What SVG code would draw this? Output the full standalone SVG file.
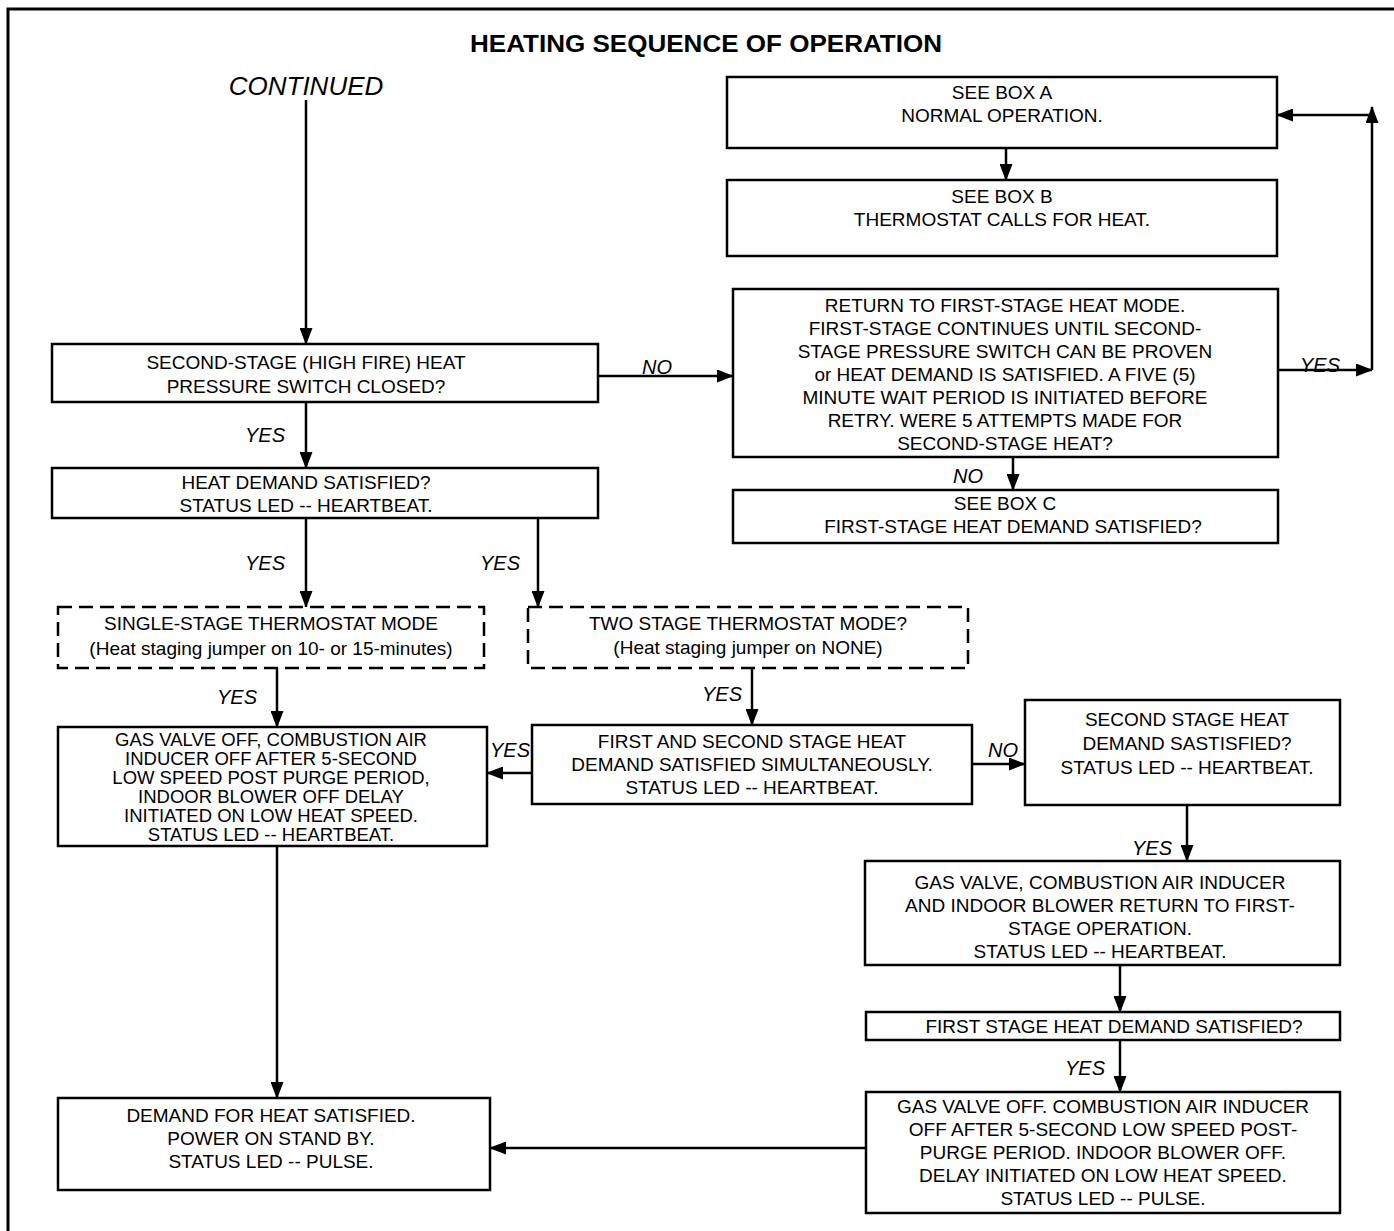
<svg xmlns="http://www.w3.org/2000/svg" width="1394" height="1231" viewBox="0 0 1394 1231">
<style>
.bx{fill:#fff;stroke:#000;stroke-width:2.5}
.ds{fill:#fff;stroke:#000;stroke-width:2.5;stroke-dasharray:14 7}
.t{font-family:"Liberation Sans",Arial,sans-serif;font-size:19px;fill:#000;text-anchor:middle}
.ts{font-family:"Liberation Sans",Arial,sans-serif;font-size:18.5px;fill:#000;text-anchor:middle}
.lb{font-family:"Liberation Sans",Arial,sans-serif;font-size:20px;font-style:italic;fill:#000;text-anchor:middle}
.c{stroke:#000;stroke-width:2.5;fill:none;marker-end:url(#ah)}
</style>
<defs>
<marker id="ah" markerUnits="userSpaceOnUse" markerWidth="17" markerHeight="13" refX="16" refY="6.5" orient="auto">
<path d="M0,0 L17,6.5 L0,13 Z" fill="#000"/>
</marker>
</defs>
<rect width="1394" height="1231" fill="#fff"/>
<g id="frame">
<path d="M8,1231 V9 H1394" fill="none" stroke="#000" stroke-width="3"/>
</g>
<text x="706" y="52" font-family="Liberation Sans,Arial,sans-serif" font-size="23" font-weight="bold" text-anchor="middle" textLength="472" lengthAdjust="spacingAndGlyphs">HEATING SEQUENCE OF OPERATION</text>
<text x="306" y="95" font-family="Liberation Sans,Arial,sans-serif" font-size="26" font-style="italic" text-anchor="middle">CONTINUED</text>

<g id="connectors">
<line class="c" x1="306" y1="100" x2="306" y2="344"/>
<line class="c" x1="306" y1="402" x2="306" y2="468"/>
<line class="c" x1="598" y1="376" x2="733" y2="376"/>
<line class="c" x1="306" y1="518" x2="306" y2="607"/>
<line class="c" x1="538" y1="518" x2="538" y2="607"/>
<line class="c" x1="277" y1="668" x2="277" y2="727"/>
<line class="c" x1="752" y1="668" x2="752" y2="725"/>
<line class="c" x1="532" y1="773" x2="487" y2="773"/>
<line class="c" x1="972" y1="764" x2="1025" y2="764"/>
<line class="c" x1="1187" y1="805" x2="1187" y2="861"/>
<line class="c" x1="1120" y1="965" x2="1120" y2="1012"/>
<line class="c" x1="1120" y1="1040" x2="1120" y2="1092"/>
<line class="c" x1="866" y1="1148" x2="490" y2="1148"/>
<line class="c" x1="277" y1="846" x2="277" y2="1098"/>
<line class="c" x1="1006" y1="148" x2="1006" y2="180"/>
<line class="c" x1="1013" y1="457" x2="1013" y2="490"/>
<line class="c" x1="1278" y1="370" x2="1372" y2="370"/>
<line class="c" x1="1372" y1="370" x2="1372" y2="107"/>
<line class="c" x1="1372" y1="115" x2="1277" y2="115"/>
<text class="lb" x="657" y="374">NO</text>
<text class="lb" x="265" y="442">YES</text>
<text class="lb" x="265" y="570">YES</text>
<text class="lb" x="500" y="570">YES</text>
<text class="lb" x="237" y="704">YES</text>
<text class="lb" x="722" y="701">YES</text>
<text class="lb" x="510" y="757">YES</text>
<text class="lb" x="1003" y="757">NO</text>
<text class="lb" x="1152" y="855">YES</text>
<text class="lb" x="1085" y="1075">YES</text>
<text class="lb" x="968" y="483">NO</text>
<text class="lb" x="1320" y="372">YES</text>
</g>

<g id="boxA"><rect class="bx" x="727" y="77" width="550" height="71"/>
<text class="t" x="1002" y="99">SEE BOX A</text><text class="t" x="1002" y="122">NORMAL OPERATION.</text></g>
<g id="boxB"><rect class="bx" x="727" y="180" width="550" height="76"/>
<text class="t" x="1002" y="203">SEE BOX B</text><text class="t" x="1002" y="226">THERMOSTAT CALLS FOR HEAT.</text></g>
<g id="returnFirst"><rect class="bx" x="733" y="289" width="545" height="168"/>
<text class="t" x="1005" y="312">RETURN TO FIRST-STAGE HEAT MODE.</text>
<text class="t" x="1005" y="335">FIRST-STAGE CONTINUES UNTIL SECOND-</text>
<text class="t" x="1005" y="358">STAGE PRESSURE SWITCH CAN BE PROVEN</text>
<text class="t" x="1005" y="381">or HEAT DEMAND IS SATISFIED. A FIVE (5)</text>
<text class="t" x="1005" y="404">MINUTE WAIT PERIOD IS INITIATED BEFORE</text>
<text class="t" x="1005" y="427">RETRY. WERE 5 ATTEMPTS MADE FOR</text>
<text class="t" x="1005" y="450">SECOND-STAGE HEAT?</text></g>
<g id="boxC"><rect class="bx" x="733" y="490" width="545" height="53"/>
<text class="t" x="1005" y="510">SEE BOX C</text><text class="t" x="1013" y="533">FIRST-STAGE HEAT DEMAND SATISFIED?</text></g>

<g id="pressureSwitch"><rect class="bx" x="52" y="344" width="546" height="58"/>
<text class="t" x="306" y="369">SECOND-STAGE (HIGH FIRE) HEAT</text>
<text class="t" x="306" y="393">PRESSURE SWITCH CLOSED?</text></g>
<g id="heatDemand"><rect class="bx" x="52" y="468" width="546" height="50"/>
<text class="t" x="306" y="489">HEAT DEMAND SATISFIED?</text>
<text class="t" x="306" y="512">STATUS LED -- HEARTBEAT.</text></g>
<g id="singleStage"><rect class="ds" x="58" y="607" width="426" height="61"/>
<text class="t" x="271" y="630">SINGLE-STAGE THERMOSTAT MODE</text>
<text class="t" x="271" y="655">(Heat staging jumper on 10- or 15-minutes)</text></g>
<g id="twoStage"><rect class="ds" x="528" y="607" width="440" height="61"/>
<text class="t" x="748" y="630">TWO STAGE THERMOSTAT MODE?</text>
<text class="t" x="748" y="654">(Heat staging jumper on NONE)</text></g>
<g id="gasOff1"><rect class="bx" x="58" y="727" width="429" height="119"/>
<text class="ts" x="271" y="746">GAS VALVE OFF, COMBUSTION AIR</text>
<text class="ts" x="271" y="765">INDUCER OFF AFTER 5-SECOND</text>
<text class="ts" x="271" y="784">LOW SPEED POST PURGE PERIOD,</text>
<text class="ts" x="271" y="803">INDOOR BLOWER OFF DELAY</text>
<text class="ts" x="271" y="822">INITIATED ON LOW HEAT SPEED.</text>
<text class="ts" x="271" y="841">STATUS LED -- HEARTBEAT.</text></g>
<g id="firstSecond"><rect class="bx" x="532" y="725" width="440" height="79"/>
<text class="t" x="752" y="748">FIRST AND SECOND STAGE HEAT</text>
<text class="t" x="752" y="771">DEMAND SATISFIED SIMULTANEOUSLY.</text>
<text class="t" x="752" y="794">STATUS LED -- HEARTBEAT.</text></g>
<g id="secondStage"><rect class="bx" x="1025" y="700" width="315" height="105"/>
<text class="t" x="1187" y="726">SECOND STAGE HEAT</text>
<text class="t" x="1187" y="750">DEMAND SASTISFIED?</text>
<text class="t" x="1187" y="774">STATUS LED -- HEARTBEAT.</text></g>
<g id="gasReturn"><rect class="bx" x="865" y="861" width="475" height="104"/>
<text class="t" x="1100" y="889">GAS VALVE, COMBUSTION AIR INDUCER</text>
<text class="t" x="1100" y="912">AND INDOOR BLOWER RETURN TO FIRST-</text>
<text class="t" x="1100" y="935">STAGE OPERATION.</text>
<text class="t" x="1100" y="958">STATUS LED -- HEARTBEAT.</text></g>
<g id="firstStageSat"><rect class="bx" x="866" y="1012" width="474" height="28"/>
<text class="t" x="1114" y="1033">FIRST STAGE HEAT DEMAND SATISFIED?</text></g>
<g id="gasOff2"><rect class="bx" x="866" y="1092" width="474" height="121"/>
<text class="t" x="1103" y="1113">GAS VALVE OFF. COMBUSTION AIR INDUCER</text>
<text class="t" x="1103" y="1136">OFF AFTER 5-SECOND LOW SPEED POST-</text>
<text class="t" x="1103" y="1159">PURGE PERIOD. INDOOR BLOWER OFF.</text>
<text class="t" x="1103" y="1182">DELAY INITIATED ON LOW HEAT SPEED.</text>
<text class="t" x="1103" y="1205">STATUS LED -- PULSE.</text></g>
<g id="demandSat"><rect class="bx" x="58" y="1098" width="432" height="92"/>
<text class="t" x="271" y="1122">DEMAND FOR HEAT SATISFIED.</text>
<text class="t" x="271" y="1145">POWER ON STAND BY.</text>
<text class="t" x="271" y="1168">STATUS LED -- PULSE.</text></g>
</svg>
